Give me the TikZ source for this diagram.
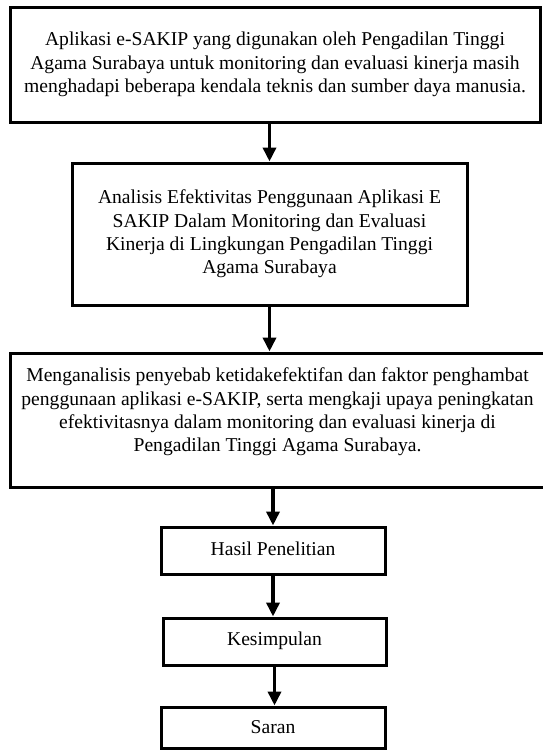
\documentclass[tikz,border=0pt]{standalone}
\usepackage{fontspec}
\setmainfont{Liberation Serif}
\usetikzlibrary{arrows.meta,calc}
\begin{document}
\begin{tikzpicture}[x=1pt,y=-1pt,
  box/.style={draw=black,line width=3pt,fill=white,rectangle,inner sep=0pt,align=center,
    font=\fontsize{19.6}{23.3}\selectfont},
  arr/.style={line width=3.8pt,-{Triangle[width=13pt,length=14pt]}}]
\useasboundingbox[fill=white] (0,0) rectangle (543,750);
\node[box,minimum width=530pt,minimum height=115pt] (b1) at (275,64.5)
  {Aplikasi e-SAKIP yang digunakan oleh Pengadilan Tinggi\\
   Agama Surabaya untuk monitoring dan evaluasi kinerja masih\\
   menghadapi beberapa kendala teknis dan sumber daya manusia.};
\node[box,minimum width=395pt,minimum height=142pt] (b2) at (269.5,234)
  {Analisis Efektivitas Penggunaan Aplikasi E\\
   SAKIP Dalam Monitoring dan Evaluasi\\
   Kinerja di Lingkungan Pengadilan Tinggi\\
   Agama Surabaya};
\node[box,minimum width=535pt,minimum height=134pt] (b3) at (277.5,420)
  {Menganalisis penyebab ketidakefektifan dan faktor penghambat\\
   penggunaan aplikasi e-SAKIP, serta mengkaji upaya peningkatan\\
   efektivitasnya dalam monitoring dan evaluasi kinerja di\\
   Pengadilan Tinggi Agama Surabaya.\\[-3.3pt]\mbox{}};
\node[box,minimum width=224pt,minimum height=47pt] (b4) at (273,550.5) {Hasil Penelitian\\[-19pt]\mbox{}};
\node[box,minimum width=223pt,minimum height=47pt] (b5) at (274.5,641.5) {Kesimpulan\\[-17pt]\mbox{}};
\node[box,minimum width=224pt,minimum height=41pt] (b6) at (273,727.5) {Saran};
\draw[arr] (b1.south -| b2.north) -- (b2.north);
\draw[arr] (b2.south) -- (b2.south |- b3.north);
\draw[arr] (b3.south -| b4.north) -- (b4.north);
\draw[arr] (b4.south) -- (b4.south |- b5.north);
\draw[arr] (b5.south) -- (b5.south |- b6.north);
\end{tikzpicture}
\end{document}
